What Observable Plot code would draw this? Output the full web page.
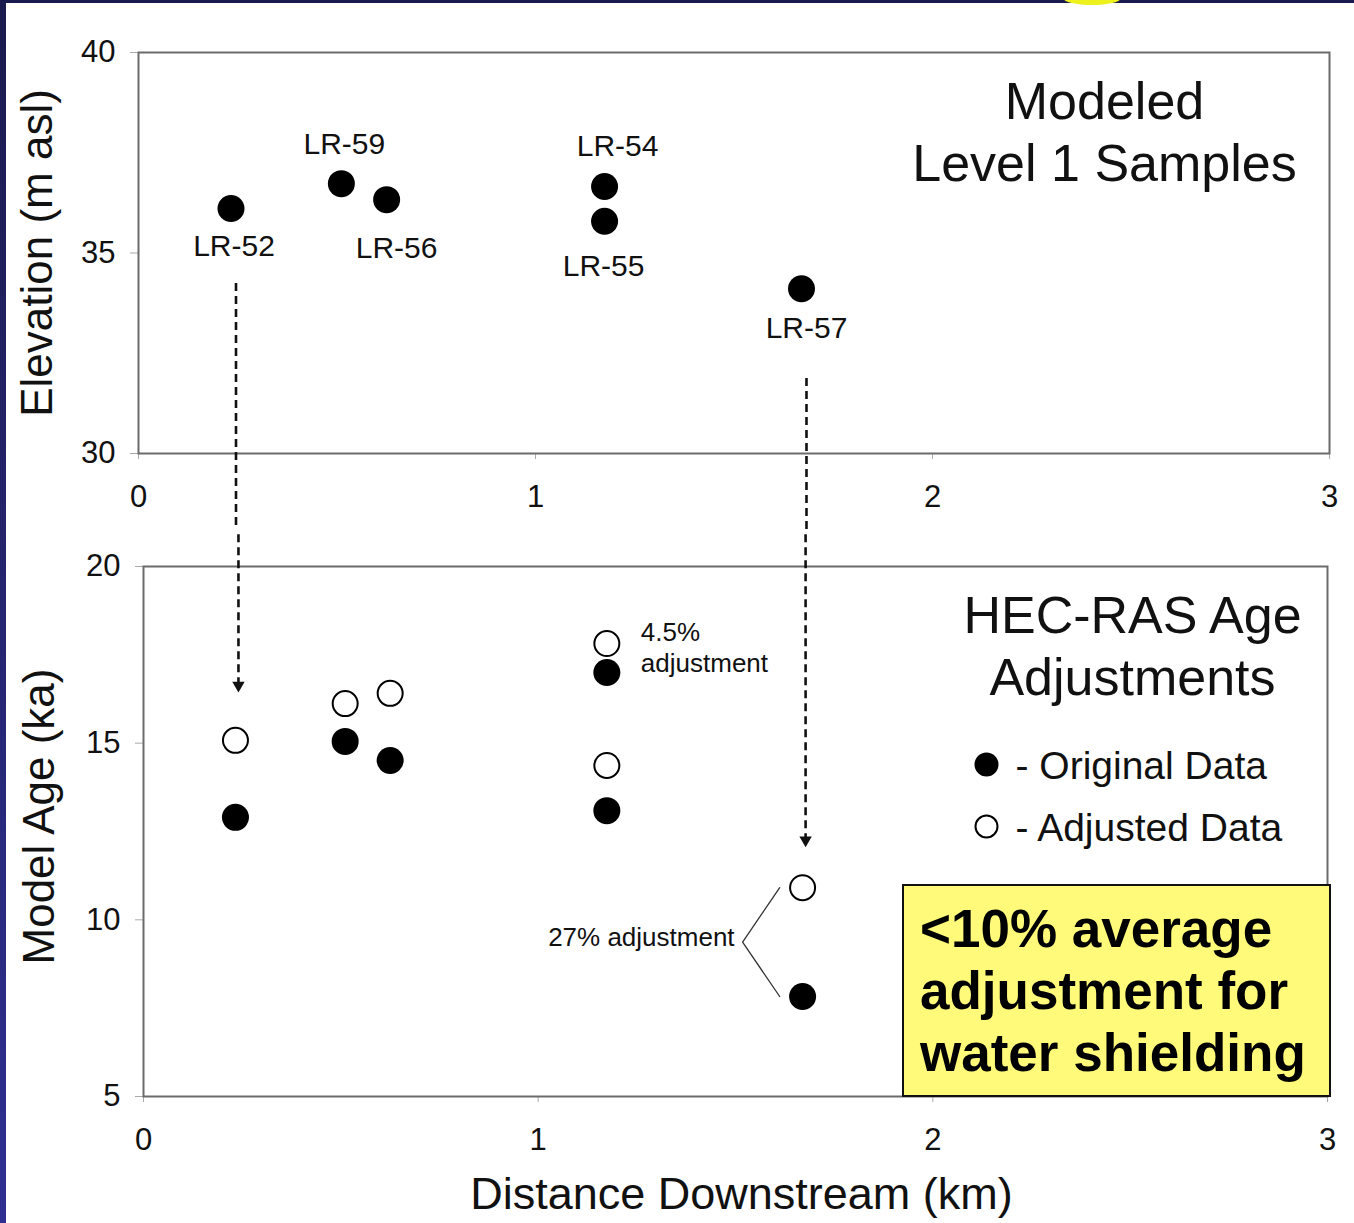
<!DOCTYPE html>
<html>
<head>
<meta charset="utf-8">
<script src="https://cdn.jsdelivr.net/npm/d3@7"></script>
<script src="https://cdn.jsdelivr.net/npm/@observablehq/plot@0.6"></script>
<style>
  html, body { margin: 0; padding: 0; background: #fff; }
  #page { position: relative; width: 1354px; height: 1223px; overflow: hidden; background: #fff;
          font-family: "Liberation Sans", Arial, Helvetica, sans-serif; }
  #page svg { position: absolute; left: 0; }
  #topPanel { top: 0; }
  #bottomPanel { top: 530px; }
  .edge-left { position: absolute; left: 0; top: 0; width: 6px; height: 1223px;
               background: linear-gradient(#1b1a4e, #2f2f92); z-index: 5; }
  .edge-top { position: absolute; left: 0; top: 0; width: 1354px; height: 3px; background: #1b1a4e; z-index: 5; }
  .sun { position: absolute; left: 1063px; top: -9px; width: 58px; height: 14px; border-radius: 50%;
         background: #eef21c; z-index: 6; }
  .note { position: absolute; left: 902px; top: 884px; width: 429px; height: 213px; box-sizing: border-box;
          background: #fffa7a; border: 2px solid #111; z-index: 4; color: #000;
          font-weight: bold; font-size: 53px; line-height: 62px; padding: 12px 0 0 16px; white-space: nowrap; }
</style>
</head>
<body>
<div id="page">
  <div class="edge-left"></div>
  <div class="edge-top"></div>
  <div class="sun"></div>
  <div class="note">&lt;10% average<br>adjustment for<br>water shielding</div>
</div>
<script>
// ---- data ----
const samples        = ["LR-52", "LR-59", "LR-56", "LR-54", "LR-55", "LR-57"];
const distanceKm     = [0.233, 0.511, 0.625, 1.174, 1.174, 1.670];
const elevationM     = [36.11, 36.73, 36.33, 36.66, 35.79, 34.11];
const originalAgeKa  = [12.90, 15.05, 14.51, 17.00, 13.09, 7.83];
const adjustedAgeKa  = [15.08, 16.12, 16.41, 17.82, 14.37, 10.91];
const xTicks         = [0, 1, 2, 3];
const elevationTicks = [30, 35, 40];
const ageTicks       = [5, 10, 15, 20];
const legendLabels   = ["- Original Data", "- Adjusted Data"];
// dashed arrows linking the elevation panel to the age panel
const arrowSamples   = ["LR-52", "LR-57"];
const arrowStartM    = [34.24, 31.87];
const arrowTipKa     = [16.43, 12.05];

// ---- tables built from the arrays ----
const rows = samples.map((s, i) => ({
  sample: s, x: distanceKm[i], elev: elevationM[i], orig: originalAgeKa[i], adj: adjustedAgeKa[i]
}));
const byName = Object.fromEntries(rows.map(r => [r.sample, r]));
const arrows = arrowSamples.map((s, i) => ({ x: byName[s].x, start: arrowStartM[i], tip: arrowTipKa[i] }));

// label placement (pixels) around each elevation point
const labelOffset = {
  "LR-52": [3, 38], "LR-59": [3, -39], "LR-56": [10, 49],
  "LR-54": [13, -40], "LR-55": [-1, 45], "LR-57": [5, 40]
};

const FONT = "Liberation Sans, Arial, Helvetica, sans-serif";
const svgStyle = { fontFamily: FONT, background: "transparent", overflow: "hidden", color: "#111" };
const dash = { stroke: "#111", strokeWidth: 2.6, strokeDasharray: "8,5" };
const fmt = d => String(d);

// ---- top panel: elevation ----
const topPlot = Plot.plot({
  width: 1354, height: 530,
  marginLeft: 138, marginRight: 25, marginTop: 52, marginBottom: 77,
  style: svgStyle,
  x: { domain: [0, 3] },
  y: { domain: [30, 40] },
  marks: [
    Plot.axisY({ ticks: elevationTicks, tickFormat: fmt, tickSize: 8, tickPadding: 15, fontSize: 31, stroke: "#aaa", label: null }),
    Plot.axisX({ ticks: xTicks, tickFormat: fmt, tickSize: 6, tickPadding: 25, fontSize: 31, stroke: "#aaa", label: null }),
    Plot.frame({ stroke: "#6b6b6b", strokeWidth: 2 }),
    Plot.text(["Elevation (m asl)"], { frameAnchor: "left", rotate: -90, dx: -101, fontSize: 44, textAnchor: "middle" }),
    Plot.ruleX(arrows, { x: "x", y1: "start", y2: () => 27, dx: 5, ...dash }),
    Plot.dot(rows, { x: "x", y: "elev", r: 13.5, fill: "#000", stroke: "none" }),
    ...rows.map(r => Plot.text([r], {
      x: "x", y: "elev", text: "sample", fontSize: 30,
      dx: labelOffset[r.sample][0], dy: labelOffset[r.sample][1]
    })),
    Plot.text(["Modeled\nLevel 1 Samples"], {
      frameAnchor: "top-right", textAnchor: "middle", lineAnchor: "top",
      dx: -225, dy: 22, fontSize: 52, lineHeight: 1.2
    })
  ]
});
topPlot.id = "topPanel";

// ---- bottom panel: model age ----
const r57 = byName["LR-57"];
const bracket = [
  { x: r57.x - 0.058, y: r57.adj },
  { x: r57.x - 0.152, y: (r57.adj + r57.orig) / 2 },
  { x: r57.x - 0.058, y: r57.orig }
];
const r54 = byName["LR-54"];

const bottomPlot = Plot.plot({
  width: 1354, height: 693,
  marginLeft: 143, marginRight: 27, marginTop: 36, marginBottom: 127,
  style: svgStyle,
  x: { domain: [0, 3] },
  y: { domain: [5, 20] },
  marks: [
    Plot.axisY({ ticks: ageTicks, tickFormat: fmt, tickSize: 8, tickPadding: 15, fontSize: 31, stroke: "#aaa", label: null }),
    Plot.axisX({ ticks: xTicks, tickFormat: fmt, tickSize: 6, tickPadding: 25, fontSize: 31, stroke: "#aaa", label: null }),
    Plot.frame({ stroke: "#6b6b6b", strokeWidth: 2 }),
    Plot.text(["Model Age (ka)"], { frameAnchor: "left", rotate: -90, dx: -104, dy: -15, fontSize: 44, textAnchor: "middle" }),
    Plot.text(["Distance Downstream (km)"], { frameAnchor: "bottom", dx: 6, dy: 112, fontSize: 45, textAnchor: "middle" }),
    Plot.ruleX(arrows, { x: "x", y1: () => 22, y2: "tip", dx: 3, insetBottom: 9, ...dash }),
    Plot.dot(arrows, { x: "x", y: "tip", dx: 3, dy: -7.2, symbol: "triangle", rotate: 180, r: 4.6, fill: "#111", stroke: "none" }),
    Plot.line(bracket, { x: "x", y: "y", stroke: "#333", strokeWidth: 1.3, curve: "linear" }),
    Plot.text(["27% adjustment"], {
      x: bracket[1].x, y: bracket[1].y, textAnchor: "end", dx: -8, dy: -4, fontSize: 26
    }),
    Plot.text(["4.5%\nadjustment"], {
      x: r54.x, y: r54.adj, textAnchor: "start", dx: 34, dy: 3, fontSize: 26, lineHeight: 1.19
    }),
    Plot.dot(rows, { x: "x", y: "adj", r: 12.5, fill: "#fff", stroke: "#000", strokeWidth: 2 }),
    Plot.dot(rows, { x: "x", y: "orig", r: 13.5, fill: "#000", stroke: "none" }),
    Plot.text(["HEC-RAS Age\nAdjustments"], {
      frameAnchor: "top-right", textAnchor: "middle", lineAnchor: "top",
      dx: -195, dy: 22, fontSize: 52, lineHeight: 1.2
    }),
    // legend
    Plot.dot([legendLabels[0]], { frameAnchor: "top-right", dx: -341, dy: 198, r: 12, fill: "#000", stroke: "none" }),
    Plot.dot([legendLabels[1]], { frameAnchor: "top-right", dx: -341, dy: 260, r: 11, fill: "#fff", stroke: "#000", strokeWidth: 2 }),
    Plot.text([legendLabels[0]], { frameAnchor: "top-right", textAnchor: "start", dx: -312, dy: 185, fontSize: 39 }),
    Plot.text([legendLabels[1]], { frameAnchor: "top-right", textAnchor: "start", dx: -312, dy: 247, fontSize: 39 })
  ]
});
bottomPlot.id = "bottomPanel";

const page = document.getElementById("page");
page.appendChild(topPlot);
page.appendChild(bottomPlot);
</script>
</body>
</html>
